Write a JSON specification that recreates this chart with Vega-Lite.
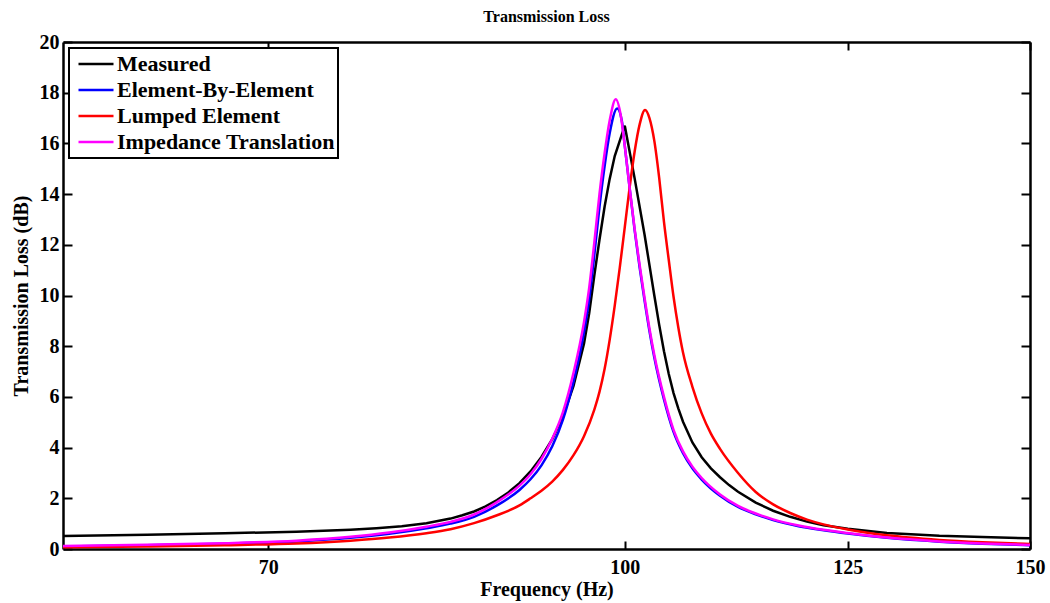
{
"$schema": "https://vega.github.io/schema/vega-lite/v6.json",
"width": 967, "height": 507,
"autosize": "none",
"padding": {"left": 63, "top": 42, "right": 20, "bottom": 54},
"background": "white",
"title": {"text": "Transmission Loss", "font": "Liberation Serif", "fontSize": 16, "fontWeight": "bold", "color": "black", "anchor": "middle", "offset": 7},
"config": {
  "view": {"stroke": null},
  "legend": {"strokeWidth": 2},
  "axis": {"grid": false, "labelFlush": false, "labelOverlap": false, "tickColor": "black", "tickWidth": 2, "domainColor": "black", "domainWidth": 2.5,
    "labelFont": "Liberation Serif", "labelFontSize": 20, "labelFontWeight": "bold", "labelColor": "black",
    "titleFont": "Liberation Serif", "titleFontSize": 20, "titleFontWeight": "bold", "titleColor": "black"}
},
"data": {"values": [
{"series":"Measured","freq":57,"loss":0.51},{"series":"Measured","freq":62,"loss":0.56},{"series":"Measured","freq":67,"loss":0.62},{"series":"Measured","freq":72,"loss":0.68},{"series":"Measured","freq":76,"loss":0.76},{"series":"Measured","freq":78,"loss":0.82},{"series":"Measured","freq":80,"loss":0.9},{"series":"Measured","freq":82,"loss":1.02},{"series":"Measured","freq":84,"loss":1.2},{"series":"Measured","freq":85,"loss":1.33},{"series":"Measured","freq":86,"loss":1.48},{"series":"Measured","freq":87,"loss":1.68},{"series":"Measured","freq":88,"loss":1.93},{"series":"Measured","freq":89,"loss":2.23},{"series":"Measured","freq":90,"loss":2.6},{"series":"Measured","freq":91,"loss":3.06},{"series":"Measured","freq":92,"loss":3.63},{"series":"Measured","freq":93,"loss":4.33},{"series":"Measured","freq":94,"loss":5.23},{"series":"Measured","freq":95,"loss":6.43},{"series":"Measured","freq":96,"loss":8.1},{"series":"Measured","freq":96.5,"loss":9.3},{"series":"Measured","freq":97,"loss":10.8},{"series":"Measured","freq":97.5,"loss":12.2},{"series":"Measured","freq":98,"loss":13.5},{"series":"Measured","freq":98.5,"loss":14.6},{"series":"Measured","freq":99,"loss":15.5},{"series":"Measured","freq":100,"loss":16.7},{"series":"Measured","freq":101,"loss":14.6},{"series":"Measured","freq":102,"loss":12.4},{"series":"Measured","freq":103,"loss":10.0},{"series":"Measured","freq":103.5,"loss":8.85},{"series":"Measured","freq":104,"loss":7.8},{"series":"Measured","freq":104.5,"loss":6.9},{"series":"Measured","freq":105,"loss":6.15},{"series":"Measured","freq":105.5,"loss":5.55},{"series":"Measured","freq":106,"loss":5.02},{"series":"Measured","freq":107,"loss":4.2},{"series":"Measured","freq":108,"loss":3.62},{"series":"Measured","freq":109,"loss":3.18},{"series":"Measured","freq":110,"loss":2.83},{"series":"Measured","freq":111,"loss":2.52},{"series":"Measured","freq":112,"loss":2.26},{"series":"Measured","freq":114,"loss":1.83},{"series":"Measured","freq":116,"loss":1.51},{"series":"Measured","freq":118,"loss":1.27},{"series":"Measured","freq":120,"loss":1.08},{"series":"Measured","freq":122,"loss":0.94},{"series":"Measured","freq":125,"loss":0.8},{"series":"Measured","freq":130,"loss":0.63},{"series":"Measured","freq":137,"loss":0.52},{"series":"Measured","freq":143,"loss":0.47},{"series":"Measured","freq":150,"loss":0.42},
{"series":"Element-By-Element","freq":57,"loss":0.1},{"series":"Element-By-Element","freq":62,"loss":0.15},{"series":"Element-By-Element","freq":67,"loss":0.21},{"series":"Element-By-Element","freq":72,"loss":0.3},{"series":"Element-By-Element","freq":76,"loss":0.44},{"series":"Element-By-Element","freq":79,"loss":0.6},{"series":"Element-By-Element","freq":82,"loss":0.82},{"series":"Element-By-Element","freq":84,"loss":1.0},{"series":"Element-By-Element","freq":86,"loss":1.27},{"series":"Element-By-Element","freq":88,"loss":1.72},{"series":"Element-By-Element","freq":90,"loss":2.33},{"series":"Element-By-Element","freq":91,"loss":2.75},{"series":"Element-By-Element","freq":92,"loss":3.3},{"series":"Element-By-Element","freq":93,"loss":4.05},{"series":"Element-By-Element","freq":94,"loss":5.1},{"series":"Element-By-Element","freq":95,"loss":6.6},{"series":"Element-By-Element","freq":96,"loss":8.55},{"series":"Element-By-Element","freq":96.5,"loss":9.85},{"series":"Element-By-Element","freq":97,"loss":11.6},{"series":"Element-By-Element","freq":97.5,"loss":13.5},{"series":"Element-By-Element","freq":98,"loss":15.1},{"series":"Element-By-Element","freq":98.5,"loss":16.4},{"series":"Element-By-Element","freq":99.25,"loss":17.38},{"series":"Element-By-Element","freq":99.7,"loss":16.9},{"series":"Element-By-Element","freq":100,"loss":15.9},{"series":"Element-By-Element","freq":100.5,"loss":14.2},{"series":"Element-By-Element","freq":101,"loss":12.55},{"series":"Element-By-Element","freq":101.5,"loss":11.1},{"series":"Element-By-Element","freq":102,"loss":9.8},{"series":"Element-By-Element","freq":102.5,"loss":8.6},{"series":"Element-By-Element","freq":103,"loss":7.55},{"series":"Element-By-Element","freq":104,"loss":5.9},{"series":"Element-By-Element","freq":105,"loss":4.62},{"series":"Element-By-Element","freq":106,"loss":3.78},{"series":"Element-By-Element","freq":107,"loss":3.18},{"series":"Element-By-Element","freq":108,"loss":2.74},{"series":"Element-By-Element","freq":110,"loss":2.1},{"series":"Element-By-Element","freq":112,"loss":1.66},{"series":"Element-By-Element","freq":114,"loss":1.37},{"series":"Element-By-Element","freq":116,"loss":1.14},{"series":"Element-By-Element","freq":119,"loss":0.9},{"series":"Element-By-Element","freq":122,"loss":0.74},{"series":"Element-By-Element","freq":125,"loss":0.61},{"series":"Element-By-Element","freq":130,"loss":0.44},{"series":"Element-By-Element","freq":137,"loss":0.29},{"series":"Element-By-Element","freq":143,"loss":0.21},{"series":"Element-By-Element","freq":150,"loss":0.15},
{"series":"Lumped Element","freq":57,"loss":0.07},{"series":"Lumped Element","freq":62,"loss":0.1},{"series":"Lumped Element","freq":67,"loss":0.15},{"series":"Lumped Element","freq":72,"loss":0.22},{"series":"Lumped Element","freq":76,"loss":0.33},{"series":"Lumped Element","freq":79,"loss":0.45},{"series":"Lumped Element","freq":82,"loss":0.62},{"series":"Lumped Element","freq":84,"loss":0.78},{"series":"Lumped Element","freq":86,"loss":1.02},{"series":"Lumped Element","freq":88,"loss":1.33},{"series":"Lumped Element","freq":90,"loss":1.72},{"series":"Lumped Element","freq":91,"loss":2.0},{"series":"Lumped Element","freq":92,"loss":2.3},{"series":"Lumped Element","freq":93,"loss":2.66},{"series":"Lumped Element","freq":94,"loss":3.12},{"series":"Lumped Element","freq":95,"loss":3.7},{"series":"Lumped Element","freq":96,"loss":4.45},{"series":"Lumped Element","freq":97,"loss":5.5},{"series":"Lumped Element","freq":97.5,"loss":6.2},{"series":"Lumped Element","freq":98,"loss":7.1},{"series":"Lumped Element","freq":98.5,"loss":8.25},{"series":"Lumped Element","freq":99,"loss":9.6},{"series":"Lumped Element","freq":99.5,"loss":11.1},{"series":"Lumped Element","freq":100,"loss":12.7},{"series":"Lumped Element","freq":100.5,"loss":14.3},{"series":"Lumped Element","freq":101,"loss":15.7},{"series":"Lumped Element","freq":101.5,"loss":16.75},{"series":"Lumped Element","freq":102.05,"loss":17.32},{"series":"Lumped Element","freq":102.5,"loss":17.0},{"series":"Lumped Element","freq":103,"loss":16.1},{"series":"Lumped Element","freq":103.5,"loss":14.65},{"series":"Lumped Element","freq":104,"loss":12.9},{"series":"Lumped Element","freq":104.5,"loss":11.4},{"series":"Lumped Element","freq":105,"loss":9.95},{"series":"Lumped Element","freq":105.5,"loss":8.75},{"series":"Lumped Element","freq":106,"loss":7.75},{"series":"Lumped Element","freq":107,"loss":6.4},{"series":"Lumped Element","freq":108,"loss":5.35},{"series":"Lumped Element","freq":109,"loss":4.55},{"series":"Lumped Element","freq":110,"loss":3.95},{"series":"Lumped Element","freq":112,"loss":3.0},{"series":"Lumped Element","freq":114,"loss":2.25},{"series":"Lumped Element","freq":116,"loss":1.76},{"series":"Lumped Element","freq":118,"loss":1.42},{"series":"Lumped Element","freq":120,"loss":1.16},{"series":"Lumped Element","freq":122,"loss":0.97},{"series":"Lumped Element","freq":125,"loss":0.77},{"series":"Lumped Element","freq":130,"loss":0.54},{"series":"Lumped Element","freq":137,"loss":0.36},{"series":"Lumped Element","freq":143,"loss":0.27},{"series":"Lumped Element","freq":150,"loss":0.2},
{"series":"Impedance Translation","freq":57,"loss":0.12},{"series":"Impedance Translation","freq":62,"loss":0.17},{"series":"Impedance Translation","freq":67,"loss":0.23},{"series":"Impedance Translation","freq":72,"loss":0.33},{"series":"Impedance Translation","freq":76,"loss":0.48},{"series":"Impedance Translation","freq":79,"loss":0.65},{"series":"Impedance Translation","freq":82,"loss":0.88},{"series":"Impedance Translation","freq":84,"loss":1.07},{"series":"Impedance Translation","freq":86,"loss":1.36},{"series":"Impedance Translation","freq":88,"loss":1.85},{"series":"Impedance Translation","freq":90,"loss":2.5},{"series":"Impedance Translation","freq":91,"loss":2.95},{"series":"Impedance Translation","freq":92,"loss":3.55},{"series":"Impedance Translation","freq":93,"loss":4.35},{"series":"Impedance Translation","freq":94,"loss":5.4},{"series":"Impedance Translation","freq":95,"loss":6.95},{"series":"Impedance Translation","freq":96,"loss":8.95},{"series":"Impedance Translation","freq":96.5,"loss":10.3},{"series":"Impedance Translation","freq":97,"loss":12.1},{"series":"Impedance Translation","freq":97.5,"loss":14.0},{"series":"Impedance Translation","freq":98,"loss":15.6},{"series":"Impedance Translation","freq":98.5,"loss":16.9},{"series":"Impedance Translation","freq":99.1,"loss":17.74},{"series":"Impedance Translation","freq":99.6,"loss":17.1},{"series":"Impedance Translation","freq":100,"loss":15.9},{"series":"Impedance Translation","freq":100.5,"loss":14.2},{"series":"Impedance Translation","freq":101,"loss":12.6},{"series":"Impedance Translation","freq":101.5,"loss":11.2},{"series":"Impedance Translation","freq":102,"loss":9.9},{"series":"Impedance Translation","freq":102.5,"loss":8.7},{"series":"Impedance Translation","freq":103,"loss":7.65},{"series":"Impedance Translation","freq":104,"loss":6.0},{"series":"Impedance Translation","freq":105,"loss":4.7},{"series":"Impedance Translation","freq":106,"loss":3.85},{"series":"Impedance Translation","freq":107,"loss":3.25},{"series":"Impedance Translation","freq":108,"loss":2.8},{"series":"Impedance Translation","freq":110,"loss":2.15},{"series":"Impedance Translation","freq":112,"loss":1.7},{"series":"Impedance Translation","freq":114,"loss":1.4},{"series":"Impedance Translation","freq":116,"loss":1.17},{"series":"Impedance Translation","freq":119,"loss":0.93},{"series":"Impedance Translation","freq":122,"loss":0.76},{"series":"Impedance Translation","freq":125,"loss":0.63},{"series":"Impedance Translation","freq":130,"loss":0.45},{"series":"Impedance Translation","freq":137,"loss":0.3},{"series":"Impedance Translation","freq":143,"loss":0.22},{"series":"Impedance Translation","freq":150,"loss":0.16}
]},
"layer": [
 {"transform": [{"filter": "datum.series === 'Measured'"}],
  "mark": {"type": "line", "strokeWidth": 2.5, "interpolate": "linear", "clip": true},
  "encoding": {
   "x": {"field": "freq", "type": "quantitative", "scale": {"type": "log", "domain": [57, 150], "nice": false},
     "axis": {"orient": "bottom", "values": [70, 100, 125, 150], "labelExpr": "format(datum.value, 'd')", "title": "Frequency (Hz)", "tickSize": -8, "labelPadding": 16, "titlePadding": 2}},
   "y": {"field": "loss", "type": "quantitative", "scale": {"domain": [0, 20], "nice": false},
     "axis": {"orient": "left", "values": [0,2,4,6,8,10,12,14,16,18,20], "title": "Transmission Loss (dB)", "tickSize": -9, "labelPadding": 13, "titlePadding": 8}},
   "color": {"field": "series", "type": "nominal",
     "scale": {"domain": ["Measured", "Element-By-Element", "Lumped Element", "Impedance Translation"], "range": ["#000000", "#0000ff", "#ff0000", "#ff00ff"]},
     "legend": {"title": null, "orient": "none", "legendX": 6, "legendY": 6, "direction": "vertical", "strokeColor": "black", "fillColor": "white", "padding": 3, "symbolOffset": 5,
       "symbolType": "stroke", "symbolSize": 1225, "symbolStrokeWidth": 2.5, "labelFont": "Liberation Serif", "labelFontSize": 22, "labelFontWeight": "bold", "labelColor": "black", "clipHeight": 26, "rowPadding": 0, "labelOffset": 2, "labelLimit": 0}}
  }},
 {"transform": [{"filter": "datum.series !== 'Measured'"}],
  "mark": {"type": "line", "strokeWidth": 2.5, "interpolate": "monotone", "clip": true},
  "encoding": {
   "x": {"field": "freq", "type": "quantitative", "scale": {"type": "log", "domain": [57, 150], "nice": false}, "axis": null},
   "y": {"field": "loss", "type": "quantitative", "scale": {"domain": [0, 20], "nice": false}, "axis": null},
   "color": {"field": "series", "type": "nominal",
     "scale": {"domain": ["Measured", "Element-By-Element", "Lumped Element", "Impedance Translation"], "range": ["#000000", "#0000ff", "#ff0000", "#ff00ff"]}}
  }},
 {"mark": {"type": "line", "strokeOpacity": 0},
  "encoding": {
   "x": {"field": "freq", "type": "quantitative", "scale": {"type": "log", "domain": [57, 150], "nice": false},
     "axis": {"orient": "top", "values": [70, 100, 125, 150], "labels": false, "title": null, "tickSize": -8}},
   "y": {"field": "loss", "type": "quantitative", "scale": {"domain": [0, 20], "nice": false},
     "axis": {"orient": "right", "values": [0,2,4,6,8,10,12,14,16,18,20], "labels": false, "title": null, "tickSize": -9}},
   "detail": {"field": "series"}
  }}
],
"resolve": {"axis": {"x": "independent", "y": "independent"}}
}
